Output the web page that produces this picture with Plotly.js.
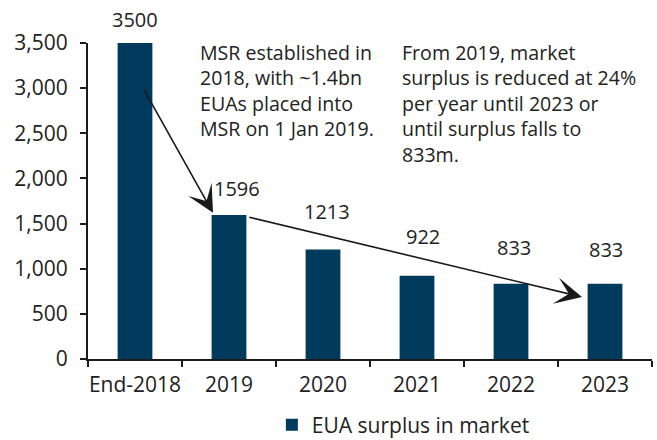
<!DOCTYPE html>
<html>
<head>
<meta charset="utf-8">
<script src="https://cdn.plot.ly/plotly-3.0.1.min.js"></script>
<style>html,body{margin:0;padding:0;background:#fff;}#chart{width:657px;height:440px;}</style>
</head>
<body>
<div id="chart"></div>
<script>
// ---- data ----
const categories = ["End-2018", "2019", "2020", "2021", "2022", "2023"];
const surplus = [3500, 1596, 1213, 922, 833, 833];
const seriesName = "EUA surplus in market";
const yTicks = [0, 500, 1000, 1500, 2000, 2500, 3000, 3500];
const noteLeft = "MSR established in<br>2018, with ~1.4bn<br>EUAs placed into<br>MSR on 1 Jan 2019.";
const noteRight = "From 2019, market<br>surplus is reduced at 24%<br>per year until 2023 or<br>until surplus falls to<br>833m.";

// ---- style ----
const FONT = "Open Sans, Noto Sans, sans-serif";
const TXT = "#222222";
const BAR = "#003A5C";
const FS = 20;
const FN = 19.6;
const FT = 21;
const labelShift = [24, 26, 38, 39, 36, 34];
const labelDx = [0, 8, 4, 6, 3, 1];

const annotations = [];
categories.forEach((c, i) => {
  annotations.push({
    x: i, y: surplus[i], xref: "x", yref: "y",
    text: String(surplus[i]), showarrow: false,
    yshift: labelShift[i], xshift: labelDx[i],
    font: {family: FONT, size: FS, color: TXT}
  });
});
annotations.push({
  xref: "paper", yref: "paper", x: 0.195, y: 1.02, xanchor: "left", yanchor: "top",
  align: "left", showarrow: false, text: noteLeft,
  font: {family: FONT, size: FN, color: TXT}
});
annotations.push({
  xref: "paper", yref: "paper", x: 0.553, y: 1.02, xanchor: "left", yanchor: "top",
  align: "left", showarrow: false, text: noteRight,
  font: {family: FONT, size: FN, color: TXT}
});
// arrows (positions in axis units; x as category index)
annotations.push({
  xref: "x", yref: "y", axref: "x", ayref: "y",
  x: 0.83, y: 1619, ax: 0.085, ay: 3004, text: "",
  showarrow: true, arrowhead: 3, arrowsize: 2.8, arrowwidth: 1.6, arrowcolor: "#1a1a1a"
});
annotations.push({
  xref: "x", yref: "y", axref: "x", ayref: "y",
  x: 4.755, y: 687, ax: 1.20, ay: 1574, text: "",
  showarrow: true, arrowhead: 3, arrowsize: 2.8, arrowwidth: 1.6, arrowcolor: "#1a1a1a"
});

const trace = {
  type: "bar", x: categories, y: surplus, name: seriesName,
  marker: {color: BAR}, showlegend: true, hoverinfo: "skip"
};

const layout = {
  width: 657, height: 440,
  margin: {l: 88, r: 5, t: 43, b: 81, autoexpand: false},
  paper_bgcolor: "#fff", plot_bgcolor: "#fff",
  font: {family: FONT, size: FS, color: TXT},
  bargap: 0.63,
  showlegend: true,
  legend: {orientation: "h", x: 0.326, xanchor: "left", yref: "container", y: 0.034, yanchor: "middle",
           font: {family: FONT, size: FT, color: TXT}},
  xaxis: {
    type: "category", range: [-0.5, 5.5], autorange: false, tickangle: 0,
    showline: true, linecolor: "#1a1a1a", linewidth: 2,
    ticks: "outside", tickson: "boundaries", ticklen: 6, tickwidth: 2, tickcolor: "#1a1a1a",
    ticklabelstandoff: 6,
    showgrid: false, zeroline: false, tickfont: {family: FONT, size: FT, color: TXT}
  },
  yaxis: {
    range: [0, 3500], autorange: false, tickvals: yTicks, tickformat: ",d",
    showline: true, linecolor: "#1a1a1a", linewidth: 2,
    ticks: "outside", ticklen: 6, tickwidth: 2, tickcolor: "#1a1a1a",
    ticklabelstandoff: 8,
    showgrid: false, zeroline: false, tickfont: {family: FONT, size: FT, color: TXT}
  },
  annotations: annotations
};

Plotly.newPlot("chart", [trace], layout, {staticPlot: true, displayModeBar: false});
</script>
</body>
</html>
